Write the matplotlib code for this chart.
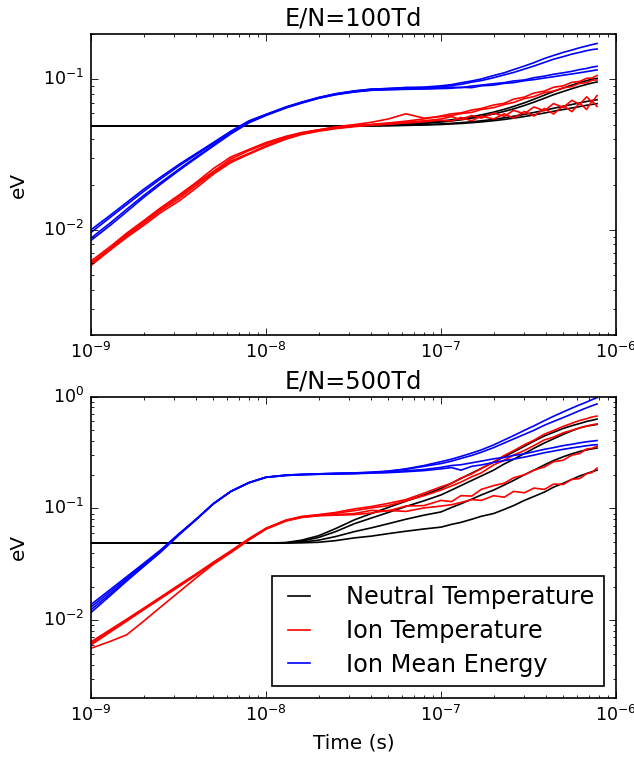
import numpy as np
import matplotlib
matplotlib.use('Agg')
import matplotlib.pyplot as plt

plt.style.use('classic')
plt.rcParams['mathtext.fontset'] = 'dejavusans'
plt.rcParams['font.family'] = ['DejaVu Sans']
plt.rcParams['axes.unicode_minus'] = False
plt.rcParams['xtick.labelsize'] = 10.5
plt.rcParams['ytick.labelsize'] = 10.5

# time grid (s), shared by all runs
t_s = [1.0e-9, 1.3e-9, 1.6e-9, 2.0e-9, 2.5e-9, 3.2e-9, 4.0e-9, 5.0e-9, 6.3e-9, 8.0e-9,
       1.0e-8, 1.3e-8, 1.6e-8, 2.0e-8, 2.5e-8, 3.2e-8, 4.0e-8, 5.0e-8, 6.3e-8, 8.0e-8,
       1.0e-7, 1.15e-7, 1.3e-7, 1.5e-7, 1.7e-7, 2.0e-7, 2.3e-7, 2.6e-7, 3.0e-7, 3.4e-7,
       3.9e-7, 4.4e-7, 5.0e-7, 5.6e-7, 6.2e-7, 6.8e-7, 7.3e-7, 7.8e-7]

# ---- E/N = 100 Td ----
top_neutral = [
    [0.049, 0.049, 0.049, 0.049, 0.049, 0.049, 0.049, 0.049, 0.049, 0.049,
     0.049, 0.049, 0.049, 0.049, 0.049, 0.0492, 0.0495, 0.0500, 0.0506, 0.0515,
     0.0528, 0.0538, 0.0549, 0.0565, 0.0580, 0.0605, 0.0632, 0.0660, 0.0698, 0.0737,
     0.0785, 0.0830, 0.0875, 0.0915, 0.0950, 0.0980, 0.1000, 0.1015],
    [0.049, 0.049, 0.049, 0.049, 0.049, 0.049, 0.049, 0.049, 0.049, 0.049,
     0.049, 0.049, 0.049, 0.049, 0.049, 0.0491, 0.0493, 0.0497, 0.0502, 0.0510,
     0.0520, 0.0529, 0.0538, 0.0552, 0.0566, 0.0588, 0.0612, 0.0636, 0.0670, 0.0705,
     0.0748, 0.0790, 0.0830, 0.0866, 0.0898, 0.0925, 0.0945, 0.0960],
    [0.049, 0.049, 0.049, 0.049, 0.049, 0.049, 0.049, 0.049, 0.049, 0.049,
     0.049, 0.049, 0.049, 0.049, 0.049, 0.0490, 0.0491, 0.0493, 0.0496, 0.0500,
     0.0505, 0.0510, 0.0515, 0.0522, 0.0530, 0.0542, 0.0555, 0.0568, 0.0585, 0.0602,
     0.0622, 0.0642, 0.0662, 0.0680, 0.0697, 0.0712, 0.0723, 0.0732],
    [0.049, 0.049, 0.049, 0.049, 0.049, 0.049, 0.049, 0.049, 0.049, 0.049,
     0.049, 0.049, 0.049, 0.049, 0.049, 0.0490, 0.0490, 0.0492, 0.0494, 0.0497,
     0.0501, 0.0505, 0.0509, 0.0515, 0.0521, 0.0531, 0.0541, 0.0552, 0.0566, 0.0580,
     0.0597, 0.0613, 0.0630, 0.0645, 0.0659, 0.0672, 0.0681, 0.0689],
]
top_ion_temp = [
    [0.0062, 0.0078, 0.0095, 0.0115, 0.0140, 0.0171, 0.0207, 0.0255, 0.0305, 0.0342,
     0.0380, 0.0418, 0.0443, 0.0462, 0.0480, 0.0492, 0.0502, 0.0513, 0.0527, 0.0546,
     0.0571, 0.0590, 0.0598, 0.0625, 0.0640, 0.0675, 0.0693, 0.0738, 0.0762, 0.0810,
     0.0835, 0.0885, 0.0905, 0.0955, 0.0968, 0.1015, 0.1020, 0.1060],
    [0.0060, 0.0076, 0.0093, 0.0113, 0.0137, 0.0167, 0.0203, 0.0244, 0.0296, 0.0336,
     0.0372, 0.0413, 0.0440, 0.0461, 0.0483, 0.0500, 0.0518, 0.0545, 0.0590, 0.0552,
     0.0565, 0.0574, 0.0592, 0.0603, 0.0630, 0.0648, 0.0680, 0.0702, 0.0745, 0.0768,
     0.0815, 0.0835, 0.0878, 0.0895, 0.0940, 0.0950, 0.0985, 0.0990],
    [0.0059, 0.0075, 0.0091, 0.0110, 0.0134, 0.0162, 0.0197, 0.0240, 0.0287, 0.0322,
     0.0362, 0.0405, 0.0433, 0.0455, 0.0473, 0.0488, 0.0498, 0.0506, 0.0518, 0.0530,
     0.0545, 0.0565, 0.0538, 0.0575, 0.0552, 0.0596, 0.0568, 0.0622, 0.0590, 0.0655,
     0.0618, 0.0690, 0.0650, 0.0725, 0.0680, 0.0765, 0.0705, 0.0780],
    [0.0058, 0.0074, 0.0089, 0.0107, 0.0130, 0.0156, 0.0190, 0.0234, 0.0280, 0.0318,
     0.0356, 0.0400, 0.0430, 0.0452, 0.0470, 0.0485, 0.0495, 0.0503, 0.0512, 0.0522,
     0.0535, 0.0528, 0.0558, 0.0530, 0.0570, 0.0545, 0.0590, 0.0552, 0.0612, 0.0570,
     0.0640, 0.0588, 0.0668, 0.0610, 0.0695, 0.0630, 0.0720, 0.0660],
]
top_ion_energy = [
    [0.0100, 0.0126, 0.0152, 0.0186, 0.0224, 0.0273, 0.0322, 0.0380, 0.0452, 0.0530,
     0.0585, 0.0655, 0.0706, 0.0758, 0.0802, 0.0838, 0.0858, 0.0870, 0.0880, 0.0888,
     0.0905, 0.0922, 0.0948, 0.0975, 0.1005, 0.1060, 0.1105, 0.1160, 0.1225, 0.1290,
     0.1375, 0.1440, 0.1510, 0.1565, 0.1620, 0.1665, 0.1700, 0.1730],
    [0.0096, 0.0122, 0.0147, 0.0180, 0.0218, 0.0267, 0.0316, 0.0374, 0.0448, 0.0524,
     0.0582, 0.0652, 0.0702, 0.0755, 0.0800, 0.0835, 0.0862, 0.0866, 0.0882, 0.0878,
     0.0890, 0.0910, 0.0925, 0.0958, 0.0980, 0.1025, 0.1070, 0.1110, 0.1170, 0.1225,
     0.1295, 0.1360, 0.1415, 0.1470, 0.1510, 0.1550, 0.1575, 0.1590],
    [0.0088, 0.0112, 0.0137, 0.0169, 0.0206, 0.0254, 0.0305, 0.0364, 0.0438, 0.0518,
     0.0578, 0.0648, 0.0698, 0.0750, 0.0792, 0.0826, 0.0848, 0.0856, 0.0862, 0.0868,
     0.0875, 0.0888, 0.0880, 0.0902, 0.0915, 0.0935, 0.0950, 0.0975, 0.0990, 0.1025,
     0.1050, 0.1080, 0.1105, 0.1130, 0.1160, 0.1180, 0.1205, 0.1220],
    [0.0085, 0.0108, 0.0132, 0.0164, 0.0201, 0.0249, 0.0300, 0.0360, 0.0434, 0.0514,
     0.0575, 0.0645, 0.0695, 0.0748, 0.0790, 0.0824, 0.0845, 0.0852, 0.0858, 0.0862,
     0.0868, 0.0872, 0.0885, 0.0880, 0.0905, 0.0915, 0.0940, 0.0950, 0.0978, 0.0995,
     0.1020, 0.1040, 0.1065, 0.1085, 0.1105, 0.1125, 0.1140, 0.1155],
]

# ---- E/N = 500 Td ----
bot_neutral = [
    [0.049, 0.049, 0.049, 0.049, 0.049, 0.049, 0.049, 0.049, 0.049, 0.049,
     0.049, 0.0495, 0.0520, 0.0570, 0.0660, 0.0790, 0.0900, 0.1020, 0.1160, 0.1320,
     0.1510, 0.1680, 0.1850, 0.2070, 0.2280, 0.2600, 0.2900, 0.3200, 0.3600, 0.4000,
     0.4450, 0.4800, 0.5200, 0.5500, 0.5750, 0.6000, 0.6150, 0.6300],
    [0.049, 0.049, 0.049, 0.049, 0.049, 0.049, 0.049, 0.049, 0.049, 0.049,
     0.049, 0.0493, 0.0510, 0.0550, 0.0620, 0.0730, 0.0820, 0.0920, 0.1040, 0.1170,
     0.1320, 0.1460, 0.1600, 0.1780, 0.1950, 0.2200, 0.2500, 0.2750, 0.3100, 0.3450,
     0.3850, 0.4200, 0.4600, 0.4950, 0.5250, 0.5450, 0.5550, 0.5650],
    [0.049, 0.049, 0.049, 0.049, 0.049, 0.049, 0.049, 0.049, 0.049, 0.049,
     0.049, 0.0491, 0.0500, 0.0520, 0.0560, 0.0620, 0.0670, 0.0730, 0.0800, 0.0870,
     0.0930, 0.1020, 0.1100, 0.1210, 0.1320, 0.1460, 0.1620, 0.1780, 0.2000, 0.2200,
     0.2450, 0.2680, 0.2900, 0.3080, 0.3230, 0.3340, 0.3410, 0.3470],
    [0.049, 0.049, 0.049, 0.049, 0.049, 0.049, 0.049, 0.049, 0.049, 0.049,
     0.049, 0.0490, 0.0492, 0.0498, 0.0515, 0.0545, 0.0565, 0.0595, 0.0625, 0.0655,
     0.0680, 0.0720, 0.0750, 0.0800, 0.0850, 0.0900, 0.0980, 0.1060, 0.1180, 0.1280,
     0.1400, 0.1550, 0.1680, 0.1820, 0.1950, 0.2050, 0.2130, 0.2200],
]
bot_ion_temp = [
    [0.0064, 0.0083, 0.0102, 0.0128, 0.0161, 0.0208, 0.0260, 0.0330, 0.0418, 0.0538,
     0.0665, 0.0786, 0.0848, 0.0880, 0.0920, 0.0990, 0.1040, 0.1110, 0.1200, 0.1370,
     0.1560, 0.1680, 0.1870, 0.2040, 0.2280, 0.2600, 0.2980, 0.3280, 0.3720, 0.4080,
     0.4620, 0.4980, 0.5420, 0.5780, 0.6120, 0.6350, 0.6580, 0.6700],
    [0.0062, 0.0081, 0.0100, 0.0126, 0.0158, 0.0204, 0.0258, 0.0326, 0.0412, 0.0532,
     0.0662, 0.0782, 0.0842, 0.0872, 0.0905, 0.0955, 0.1010, 0.1060, 0.1170, 0.1300,
     0.1460, 0.1590, 0.1720, 0.1920, 0.2080, 0.2450, 0.2700, 0.3000, 0.3300, 0.3650,
     0.4100, 0.4350, 0.4750, 0.5000, 0.5250, 0.5450, 0.5600, 0.5700],
    [0.0060, 0.0079, 0.0098, 0.0124, 0.0156, 0.0201, 0.0254, 0.0322, 0.0406, 0.0526,
     0.0655, 0.0775, 0.0835, 0.0865, 0.0880, 0.0900, 0.0960, 0.0950, 0.1050, 0.1060,
     0.1180, 0.1150, 0.1300, 0.1290, 0.1480, 0.1600, 0.1680, 0.1880, 0.2000, 0.2200,
     0.2350, 0.2620, 0.2700, 0.3000, 0.3100, 0.3400, 0.3450, 0.3600],
    [0.0056, 0.0065, 0.0074, 0.0098, 0.0131, 0.0180, 0.0240, 0.0316, 0.0402, 0.0522,
     0.0652, 0.0772, 0.0830, 0.0860, 0.0870, 0.0880, 0.0910, 0.0960, 0.0940, 0.1010,
     0.1050, 0.1080, 0.1130, 0.1200, 0.1180, 0.1300, 0.1260, 0.1420, 0.1380, 0.1520,
     0.1480, 0.1650, 0.1640, 0.1820, 0.1850, 0.2050, 0.2100, 0.2300],
]
bot_ion_energy = [
    [0.0138, 0.0190, 0.0245, 0.0322, 0.0425, 0.0598, 0.0805, 0.1105, 0.1425, 0.1705,
     0.1905, 0.1990, 0.2020, 0.2040, 0.2065, 0.2080, 0.2110, 0.2160, 0.2260, 0.2420,
     0.2620, 0.2760, 0.2920, 0.3130, 0.3340, 0.3700, 0.4100, 0.4480, 0.5000, 0.5480,
     0.6100, 0.6680, 0.7300, 0.7900, 0.8450, 0.8950, 0.9400, 0.9800],
    [0.0131, 0.0182, 0.0237, 0.0314, 0.0418, 0.0593, 0.0802, 0.1102, 0.1422, 0.1702,
     0.1902, 0.1985, 0.2015, 0.2035, 0.2060, 0.2070, 0.2100, 0.2140, 0.2240, 0.2380,
     0.2520, 0.2650, 0.2800, 0.2980, 0.3180, 0.3500, 0.3850, 0.4180, 0.4600, 0.5000,
     0.5550, 0.6000, 0.6500, 0.7000, 0.7500, 0.7950, 0.8300, 0.8600],
    [0.0124, 0.0174, 0.0229, 0.0306, 0.0410, 0.0587, 0.0798, 0.1098, 0.1418, 0.1698,
     0.1898, 0.1975, 0.2005, 0.2025, 0.2040, 0.2055, 0.2090, 0.2110, 0.2170, 0.2230,
     0.2330, 0.2420, 0.2460, 0.2560, 0.2650, 0.2780, 0.2860, 0.2980, 0.3080, 0.3220,
     0.3380, 0.3500, 0.3650, 0.3750, 0.3860, 0.3950, 0.4000, 0.4050],
    [0.0117, 0.0168, 0.0224, 0.0302, 0.0406, 0.0584, 0.0795, 0.1095, 0.1415, 0.1695,
     0.1895, 0.1970, 0.2000, 0.2020, 0.2030, 0.2045, 0.2070, 0.2090, 0.2130, 0.2180,
     0.2260, 0.2320, 0.2200, 0.2380, 0.2450, 0.2580, 0.2680, 0.2760, 0.2880, 0.3000,
     0.3150, 0.3260, 0.3380, 0.3480, 0.3560, 0.3640, 0.3690, 0.3720],
]

dpi = 120
fig = plt.figure(figsize=(634 / dpi, 764 / dpi), dpi=dpi, facecolor='white')
ax1 = fig.add_axes([0.1435, 0.5615, 0.828, 0.394])
ax2 = fig.add_axes([0.1435, 0.0860, 0.828, 0.3948])


def draw_panel(ax, neutral, ion_t, ion_e, title, ylim):
    for i, y in enumerate(neutral):
        ax.plot(t_s, y, color='k', lw=1.0, label='Neutral Temperature' if i == 0 else None)
    for i, y in enumerate(ion_t):
        ax.plot(t_s, y, color='r', lw=1.0, label='Ion Temperature' if i == 0 else None)
    for i, y in enumerate(ion_e):
        ax.plot(t_s, y, color='b', lw=1.0, label='Ion Mean Energy' if i == 0 else None)
    ax.set_xscale('log')
    ax.set_yscale('log')
    ax.set_xlim(1e-9, 1e-6)
    ax.set_ylim(*ylim)
    ax.set_ylabel('eV', labelpad=9)
    ax.set_title(title)


draw_panel(ax1, top_neutral, top_ion_temp, top_ion_energy, 'E/N=100Td', (2e-3, 0.2))
draw_panel(ax2, bot_neutral, bot_ion_temp, bot_ion_energy, 'E/N=500Td', (2e-3, 1.0))
ax2.set_xlabel('Time (s)')

ax2.legend(loc='lower right', handlelength=1.5, handletextpad=1.2,
           labelspacing=0.4, borderaxespad=0.5)

fig.savefig('out.png', dpi=dpi, facecolor='white')
